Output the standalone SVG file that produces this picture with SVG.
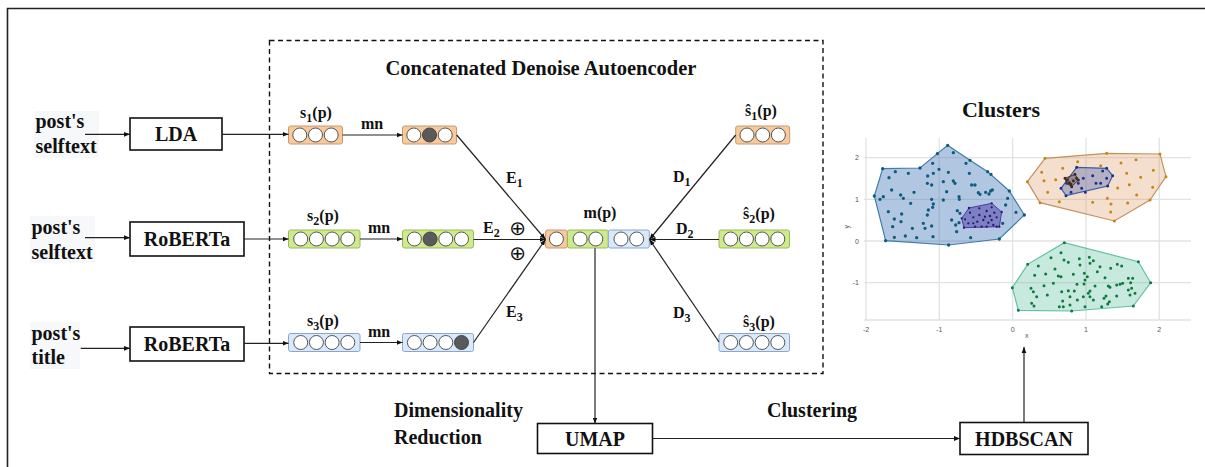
<svg xmlns="http://www.w3.org/2000/svg" width="1205" height="467" viewBox="0 0 1205 467">
<defs>
<style>
.t{font-family:"Liberation Serif","Times New Roman",serif;font-weight:bold;fill:#111}
.t20{font-size:20px}
.t16{font-size:16px}
.box{fill:#fff;stroke:#111;stroke-width:1.6}
.ln{stroke:#222;stroke-width:1.2;fill:none}
.vo{fill:#f9c99b;stroke:#c49a74;stroke-width:1}
.vg{fill:#cdeb8b;stroke:#9ab866;stroke-width:1}
.vb{fill:#dae8fc;stroke:#8aa6cc;stroke-width:1}
.c{fill:#fff;stroke:#555;stroke-width:1}
.cf{fill:#5a5a5a;stroke:#444;stroke-width:1}
.grid{stroke:#e2e2e2;stroke-width:1.3}
.tick{font-family:"Liberation Sans",Arial,sans-serif;font-size:7px;fill:#555}
.dot{fill:none;stroke-linecap:round}
.op{font-family:"DejaVu Sans",sans-serif;font-size:20px;fill:#111}
</style>
<marker id="ah" viewBox="0 0 10 10" refX="10" refY="5" markerWidth="6" markerHeight="6" markerUnits="userSpaceOnUse" orient="auto">
<path d="M0 1L10 5L0 9z" fill="#111"/>
</marker>
</defs>

<!-- outer frame -->
<path d="M7.5 467V8.5H1205" fill="none" stroke="#222" stroke-width="1.6"/>

<!-- dashed autoencoder frame -->
<rect x="269.5" y="40.5" width="553.5" height="333" fill="none" stroke="#111" stroke-width="1.4" stroke-dasharray="5 3.5"/>
<text class="t" x="541" y="75" font-size="20.5" text-anchor="middle">Concatenated Denoise Autoencoder</text>

<!-- inputs -->
<g id="in1">
<rect x="34" y="111" width="65" height="47" fill="#f7f8fa"/>
<text class="t t20" x="35.5" y="128">post's</text>
<text class="t t20" x="35.5" y="153">selftext</text>
</g>
<g id="in2">
<rect x="30" y="216" width="65" height="47" fill="#f7f8fa"/>
<text class="t t20" x="31.5" y="234">post's</text>
<text class="t t20" x="31.5" y="259">selftext</text>
</g>
<g id="in3">
<rect x="30" y="322" width="50" height="47" fill="#f7f8fa"/>
<text class="t t20" x="31.5" y="340">post's</text>
<text class="t t20" x="31.5" y="364">title</text>
</g>

<!-- encoders -->
<g id="lda"><rect class="box" x="130" y="118" width="92" height="32"/><text class="t t20" x="176" y="141" text-anchor="middle">LDA</text></g>
<g id="roberta1"><rect class="box" x="130" y="222" width="114" height="34"/><text class="t t20" x="187" y="246" text-anchor="middle">RoBERTa</text></g>
<g id="roberta2"><rect class="box" x="130" y="327" width="114" height="34"/><text class="t t20" x="187" y="351" text-anchor="middle">RoBERTa</text></g>

<!-- s vectors -->
<g id="s1">
<text class="t t16" x="316" y="118" text-anchor="middle">s<tspan font-size="12" dy="4">1</tspan><tspan dy="-4">(p)</tspan></text>
<rect class="vo" x="288.5" y="126" width="54" height="18" rx="2"/>
<circle class="c" cx="299.8" cy="135" r="7"/><circle class="c" cx="315.5" cy="135" r="7"/><circle class="c" cx="331.2" cy="135" r="7"/>
</g>
<g id="s2">
<text class="t t16" x="323" y="221" text-anchor="middle">s<tspan font-size="12" dy="4">2</tspan><tspan dy="-4">(p)</tspan></text>
<rect class="vg" x="288.5" y="230" width="71.5" height="18" rx="2"/>
<circle class="c" cx="300.7" cy="239" r="7"/><circle class="c" cx="316.4" cy="239" r="7"/><circle class="c" cx="332.1" cy="239" r="7"/><circle class="c" cx="347.8" cy="239" r="7"/>
</g>
<g id="s3">
<text class="t t16" x="323" y="326" text-anchor="middle">s<tspan font-size="12" dy="4">3</tspan><tspan dy="-4">(p)</tspan></text>
<rect class="vb" x="288.5" y="333.5" width="71.5" height="18" rx="2"/>
<circle class="c" cx="300.7" cy="342.5" r="7"/><circle class="c" cx="316.4" cy="342.5" r="7"/><circle class="c" cx="332.1" cy="342.5" r="7"/><circle class="c" cx="347.8" cy="342.5" r="7"/>
</g>

<!-- noised vectors -->
<g id="n1">
<rect class="vo" x="402.5" y="126" width="54" height="18" rx="2"/>
<circle class="c" cx="413.8" cy="135" r="7"/><circle class="cf" cx="429.5" cy="135" r="7"/><circle class="c" cx="445.2" cy="135" r="7"/>
</g>
<g id="n2">
<rect class="vg" x="402.5" y="230" width="71" height="18" rx="2"/>
<circle class="c" cx="414.4" cy="239" r="7"/><circle class="cf" cx="430.1" cy="239" r="7"/><circle class="c" cx="445.8" cy="239" r="7"/><circle class="c" cx="461.5" cy="239" r="7"/>
</g>
<g id="n3">
<rect class="vb" x="402.5" y="333.5" width="71" height="18" rx="2"/>
<circle class="c" cx="414.4" cy="342.5" r="7"/><circle class="c" cx="430.1" cy="342.5" r="7"/><circle class="c" cx="445.8" cy="342.5" r="7"/><circle class="cf" cx="461.5" cy="342.5" r="7"/>
</g>

<!-- m(p) -->
<g id="mp">
<text class="t t16" x="600" y="218" text-anchor="middle">m(p)</text>
<rect class="vo" x="545.5" y="230" width="21.8" height="18" rx="2"/>
<rect class="vg" x="567.5" y="230" width="40.8" height="18" rx="2"/>
<rect class="vb" x="608.3" y="230" width="41" height="18" rx="2"/>
<circle class="c" cx="556.4" cy="239" r="7"/>
<circle class="c" cx="580.1" cy="239" r="7"/><circle class="c" cx="595.8" cy="239" r="7"/>
<circle class="c" cx="621" cy="239" r="7"/><circle class="c" cx="636.7" cy="239" r="7"/>
</g>

<!-- reconstructions -->
<g id="r1">
<text class="t t16" x="761" y="116" text-anchor="middle">ŝ<tspan font-size="12" dy="4">1</tspan><tspan dy="-4">(p)</tspan></text>
<rect class="vo" x="735.7" y="126" width="54" height="18" rx="2"/>
<circle class="c" cx="747" cy="135" r="7"/><circle class="c" cx="762.7" cy="135" r="7"/><circle class="c" cx="778.4" cy="135" r="7"/>
</g>
<g id="r2">
<text class="t t16" x="759" y="219" text-anchor="middle">ŝ<tspan font-size="12" dy="4">2</tspan><tspan dy="-4">(p)</tspan></text>
<rect class="vg" x="719" y="230" width="70.5" height="18" rx="2"/>
<circle class="c" cx="730.7" cy="239" r="7"/><circle class="c" cx="746.4" cy="239" r="7"/><circle class="c" cx="762.1" cy="239" r="7"/><circle class="c" cx="777.8" cy="239" r="7"/>
</g>
<g id="r3">
<text class="t t16" x="759" y="327" text-anchor="middle">ŝ<tspan font-size="12" dy="4">3</tspan><tspan dy="-4">(p)</tspan></text>
<rect class="vb" x="719" y="333.5" width="70.5" height="18" rx="2"/>
<circle class="c" cx="730.7" cy="342.5" r="7"/><circle class="c" cx="746.4" cy="342.5" r="7"/><circle class="c" cx="762.1" cy="342.5" r="7"/><circle class="c" cx="777.8" cy="342.5" r="7"/>
</g>

<!-- bottom nodes -->
<g id="umap"><rect class="box" x="537.5" y="423.5" width="115" height="30"/><text class="t t20" x="595" y="446" text-anchor="middle">UMAP</text></g>
<g id="hdbscan"><rect class="box" x="960" y="422.5" width="128" height="32"/><text class="t t20" x="1024" y="446" text-anchor="middle">HDBSCAN</text></g>

<!-- connectors -->
<g id="connectors">
<line class="ln" x1="85" y1="134.3" x2="130" y2="134.3" marker-end="url(#ah)"/>
<line class="ln" x1="222" y1="134.3" x2="288.5" y2="134.3" marker-end="url(#ah)"/>
<line class="ln" x1="342.5" y1="135" x2="402.5" y2="135" marker-end="url(#ah)"/>
<line class="ln" x1="85" y1="237.7" x2="130" y2="237.7" marker-end="url(#ah)"/>
<line class="ln" x1="244" y1="239" x2="288.5" y2="239" marker-end="url(#ah)"/>
<line class="ln" x1="360" y1="239" x2="402.5" y2="239" marker-end="url(#ah)"/>
<line class="ln" x1="80.7" y1="348.3" x2="130" y2="348.3" marker-end="url(#ah)"/>
<line class="ln" x1="244" y1="343.3" x2="288.5" y2="343.3" marker-end="url(#ah)"/>
<line class="ln" x1="360" y1="342.5" x2="402.5" y2="342.5" marker-end="url(#ah)"/>
<line class="ln" x1="456.7" y1="135" x2="545.5" y2="239.5" marker-end="url(#ah)"/>
<line class="ln" x1="473.5" y1="239.5" x2="545.5" y2="239.5" marker-end="url(#ah)"/>
<line class="ln" x1="473.5" y1="342.5" x2="545.5" y2="239.5" marker-end="url(#ah)"/>
<line class="ln" x1="735.7" y1="135" x2="649.5" y2="239.5" marker-end="url(#ah)"/>
<line class="ln" x1="719" y1="239.5" x2="649.5" y2="239.5" marker-end="url(#ah)"/>
<line class="ln" x1="719" y1="342" x2="649.5" y2="239.5" marker-end="url(#ah)"/>
<line class="ln" x1="595" y1="248.3" x2="595" y2="423.5" marker-end="url(#ah)"/>
<line class="ln" x1="652.5" y1="438.5" x2="960" y2="438.5" marker-end="url(#ah)"/>
<line class="ln" x1="1024" y1="422.5" x2="1024" y2="347" marker-end="url(#ah)"/>
<text class="t t16" x="361" y="129.3">mn</text>
<text class="t t16" x="368" y="233">mn</text>
<text class="t t16" x="368" y="337">mn</text>
<text class="t t16" x="506" y="183">E<tspan font-size="12" dy="4">1</tspan></text>
<text class="t t16" x="483" y="233">E<tspan font-size="12" dy="4">2</tspan></text>
<text class="t t16" x="506" y="316.7">E<tspan font-size="12" dy="4">3</tspan></text>
<text class="t t16" x="673" y="181.7">D<tspan font-size="12" dy="4">1</tspan></text>
<text class="t t16" x="676" y="234.3">D<tspan font-size="12" dy="4">2</tspan></text>
<text class="t t16" x="673" y="317.7">D<tspan font-size="12" dy="4">3</tspan></text>
<text class="op" x="517.7" y="235" text-anchor="middle">⊕</text>
<text class="op" x="517.7" y="260" text-anchor="middle">⊕</text>
<text class="t t20" x="394" y="416.5">Dimensionality</text>
<text class="t t20" x="394" y="444">Reduction</text>
<text class="t t20" x="767" y="417">Clustering</text>
</g>

<!-- clusters plot -->
<g id="plot">
<text class="t" x="1001" y="116.7" font-size="22" text-anchor="middle">Clusters</text>
<g class="grid">
<line x1="866" y1="138" x2="866" y2="320"/>
<line x1="939.3" y1="138" x2="939.3" y2="320"/>
<line x1="1012.6" y1="138" x2="1012.6" y2="320"/>
<line x1="1086" y1="138" x2="1086" y2="320"/>
<line x1="1159.3" y1="138" x2="1159.3" y2="320"/>
<line x1="864" y1="157.7" x2="1191" y2="157.7"/>
<line x1="864" y1="199.3" x2="1191" y2="199.3"/>
<line x1="864" y1="241" x2="1191" y2="241"/>
<line x1="864" y1="282.7" x2="1191" y2="282.7"/>
<line x1="864" y1="320" x2="1191" y2="320"/>
</g>
<text class="tick" x="859" y="160" text-anchor="end">2</text>
<text class="tick" x="859" y="201.8" text-anchor="end">1</text>
<text class="tick" x="859" y="243.5" text-anchor="end">0</text>
<text class="tick" x="859" y="285.2" text-anchor="end">-1</text>
<text class="tick" x="866" y="331.5" text-anchor="middle">-2</text>
<text class="tick" x="939.3" y="331.5" text-anchor="middle">-1</text>
<text class="tick" x="1012.6" y="331.5" text-anchor="middle">0</text>
<text class="tick" x="1086" y="331.5" text-anchor="middle">1</text>
<text class="tick" x="1159.3" y="331.5" text-anchor="middle">2</text>
<text class="tick" x="1026.7" y="337.5" text-anchor="middle" font-size="8">x</text>
<text class="tick" x="0" y="0" text-anchor="middle" font-size="8" transform="translate(848.5,226.7) rotate(-90)">y</text>

<g transform="translate(840,130) scale(0.33333)">
<polygon points="103,198 128,116 240,114 292,71 323,46 390,91 443,125 508,183 553,255 478,327 326,345 137,332" fill="#4f81bd" fill-opacity="0.45" stroke="#3f7cb0" stroke-width="3.5"/>
<path class="dot" stroke="#0d5c7f" stroke-width="10" d="M103 198h0M128 116h0M166 125h0M205 130h0M240 114h0M292 71h0M323 46h0M340 68h0M390 91h0M443 125h0M453 133h0M508 183h0M553 255h0M478 327h0M326 345h0M137 332h0M130 200h0M147 143h0M155 180h0M182 195h0M190 205h0M222 187h0M212 220h0M145 245h0M163 267h0M185 252h0M158 290h0M217 295h0M196 318h0M163 322h0M230 323h0M250 280h0M255 295h0M275 288h0M279 320h0M262 255h0M265 240h0M278 232h0M275 208h0M280 222h0M262 160h0M263 138h0M275 165h0M278 100h0M297 118h0M310 155h0M325 127h0M340 153h0M345 160h0M320 185h0M310 210h0M357 200h0M358 208h0M352 242h0M360 250h0M335 270h0M347 285h0M350 305h0M357 278h0M405 165h0M388 130h0M378 100h0M415 188h0M420 193h0M437 187h0M452 183h0M457 180h0M447 192h0M503 205h0M497 225h0M488 280h0M392 323h0M528 247h0M280 130h0M395 165h0M120 208h0M183 275h0"/>
<polygon points="365,265 387,234 455,220 485,246 478,290 372,293" fill="#4b3aa8" fill-opacity="0.5" stroke="#4b3aa8" stroke-width="3"/>
<path class="dot" stroke="#2a1a6e" stroke-width="7" d="M390 248h0M400 262h0M418 255h0M440 243h0M455 232h0M463 248h0M470 262h0M455 270h0M445 278h0M430 270h0M412 275h0M400 280h0M385 280h0M375 268h0M425 290h0M440 290h0M460 285h0M470 290h0M478 290h0M365 265h0M387 234h0M455 220h0M485 246h0M372 293h0M418 235h0M435 260h0M405 290h0M450 258h0"/>
</g>

<g transform="translate(1010,140) scale(0.33333)">
<polygon points="52,125 105,55 290,40 450,42 468,110 420,180 313,243 90,188" fill="#d9925a" fill-opacity="0.3" stroke="#c69060" stroke-width="3.5"/>
<path class="dot" stroke="#c4870e" stroke-width="9" d="M105 55h0M290 40h0M450 42h0M468 110h0M420 180h0M313 243h0M90 188h0M52 125h0M95 97h0M102 122h0M113 157h0M148 185h0M158 85h0M203 65h0M272 77h0M333 69h0M378 59h0M350 100h0M392 112h0M430 91h0M358 134h0M323 144h0M292 175h0M303 192h0M353 189h0M380 165h0M428 142h0M248 187h0M302 216h0M137 119h0"/>
<polygon points="153,145 200,82 290,85 308,107 293,138 168,167" fill="#3f5fb0" fill-opacity="0.35" stroke="#3a5aa8" stroke-width="3.5"/>
<path class="dot" stroke="#16318c" stroke-width="9" d="M153 145h0M200 82h0M290 85h0M308 107h0M293 138h0M168 167h0M278 93h0M248 107h0M220 115h0M205 130h0M183 157h0M215 145h0M226 157h0M258 130h0M272 130h0M290 115h0M170 130h0"/>
<polygon points="165,115 195,103 205,120 185,140 170,130" fill="#6a5040" fill-opacity="0.4" stroke="#4a3428" stroke-width="3"/>
<path class="dot" stroke="#3a2a20" stroke-width="9" d="M165 115h0M195 103h0M205 120h0M185 140h0M178 128h0M190 122h0M200 115h0M183 133h0M172 120h0"/>
</g>

<g transform="translate(840,230) scale(0.33333)">
<polygon points="517,173 563,103 673,38 895,95 932,158 880,228 695,243 535,241" fill="#5fbfa0" fill-opacity="0.35" stroke="#62c0a6" stroke-width="3.5"/>
<path class="dot" stroke="#0b7a3b" stroke-width="9" d="M517 173h0M563 103h0M673 38h0M895 95h0M932 158h0M880 228h0M695 243h0M535 241h0M595 108h0M633 83h0M663 68h0M672 90h0M685 97h0M718 86h0M748 82h0M760 92h0M750 100h0M720 105h0M700 133h0M655 138h0M663 140h0M617 132h0M584 136h0M645 117h0M612 167h0M573 175h0M580 185h0M622 195h0M665 185h0M685 182h0M703 183h0M711 163h0M733 130h0M735 150h0M742 140h0M732 162h0M750 183h0M745 190h0M765 168h0M780 110h0M812 115h0M832 103h0M845 108h0M795 143h0M805 168h0M810 172h0M830 165h0M840 163h0M848 160h0M865 145h0M878 145h0M872 158h0M875 175h0M865 180h0M885 190h0M870 195h0M830 198h0M798 198h0M792 205h0M785 230h0M803 222h0M808 215h0M772 125h0M760 210h0M735 230h0M712 210h0M690 200h0M668 213h0M658 230h0M670 230h0M575 220h0M582 228h0M690 225h0M750 200h0M730 200h0M640 160h0M590 200h0"/>
</g>
</g>
</svg>
